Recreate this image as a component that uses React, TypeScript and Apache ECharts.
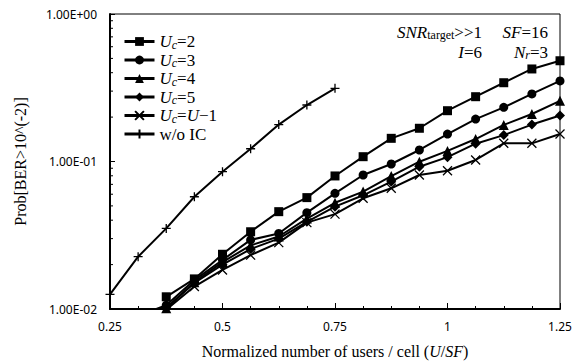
import React, { useEffect, useRef } from "react";
import * as echarts from "echarts";

// x = U/SF (U = 4..20, SF = 16)
const xValues = [0.25, 0.3125, 0.375, 0.4375, 0.5, 0.5625, 0.625, 0.6875, 0.75, 0.8125, 0.875, 0.9375, 1.0, 1.0625, 1.125, 1.1875, 1.25];

const uc2 = [null, null, 0.0121, 0.016, 0.0235, 0.0334, 0.0457, 0.0569, 0.0798, 0.1078, 0.1436, 0.168, 0.221, 0.275, 0.342, 0.424, 0.482];
const uc3 = [null, 0.009, 0.0106, 0.0157, 0.0215, 0.0294, 0.0325, 0.045, 0.0608, 0.081, 0.0962, 0.1197, 0.1535, 0.194, 0.233, 0.287, 0.352];
const uc4 = [null, 0.0088, 0.0101, 0.0152, 0.0208, 0.027, 0.031, 0.041, 0.0525, 0.0625, 0.0797, 0.0997, 0.118, 0.142, 0.177, 0.21, 0.258];
const uc5 = [null, 0.0088, 0.0102, 0.015, 0.02, 0.0255, 0.03, 0.039, 0.0494, 0.059, 0.073, 0.0922, 0.107, 0.132, 0.151, 0.178, 0.205];
const ucUm1 = [null, 0.0087, 0.0099, 0.0142, 0.0184, 0.0232, 0.0282, 0.0385, 0.044, 0.0563, 0.0658, 0.081, 0.0866, 0.1024, 0.1328, 0.1328, 0.1535];
const woIC = [0.01258, 0.02263, 0.0352, 0.0577, 0.0853, 0.122, 0.178, 0.2415, 0.3135, null, null, null, null, null, null, null, null];

const seriesNames = ["Uc=2", "Uc=3", "Uc=4", "Uc=5", "Uc=U-1", "w/o IC"];
const seriesValues = [uc2, uc3, uc4, uc5, ucUm1, woIC];

const yTickValues = [0.01, 0.1, 1];
const yTickLabels = ["1.00E-02", "1.00E-01", "1.00E+00"];
const yMinorTicks = [0.02, 0.03, 0.04, 0.05, 0.06, 0.07, 0.08, 0.09, 0.2, 0.3, 0.4, 0.5, 0.6, 0.7, 0.8, 0.9];

const SERIF = "Liberation Serif";
const SANS = "Noto Sans";

const symbols: Record<string, { symbol: string; size: number; stroke: boolean }> = {
  "Uc=2": { symbol: "rect", size: 9, stroke: false },
  "Uc=3": { symbol: "circle", size: 9, stroke: false },
  "Uc=4": { symbol: "triangle", size: 10, stroke: false },
  "Uc=5": { symbol: "diamond", size: 10, stroke: false },
  "Uc=U-1": { symbol: "path://M0,0L10,10M10,0L0,10", size: 9, stroke: true },
  "w/o IC": { symbol: "path://M5,0L5,10M0,5L10,5", size: 9, stroke: true },
};

const legendRich = {
  i: { fontFamily: SERIF, fontStyle: "italic", fontSize: 17, lineHeight: 18, color: "#000" },
  n: { fontFamily: SERIF, fontSize: 17, lineHeight: 18, color: "#000" },
  s: { fontFamily: SERIF, fontStyle: "italic", fontSize: 12, lineHeight: 10, verticalAlign: "bottom", color: "#000" },
};

const legendFormatter = (name: string) => {
  if (name === "w/o IC") return "{n|w/o IC}";
  if (name === "Uc=U-1") return "{i|U}{s|c}{n|=}{i|U}{n|\u22121}";
  return "{i|U}{s|c}{n|" + name.slice(2) + "}";
};

export default function App() {
  const ref = useRef<HTMLDivElement>(null);
  useEffect(() => {
    if (!ref.current) return;
    const chart = echarts.init(ref.current, undefined, { renderer: "svg" });

    const lineSeries = seriesNames.map((name, si) => {
      const s = symbols[name];
      return {
        name,
        type: "line",
        xAxisIndex: 0,
        yAxisIndex: 0,
        clip: true,
        symbol: s.symbol,
        symbolSize: s.size,
        showAllSymbol: true,
        lineStyle: { color: "#000", width: 2 },
        itemStyle: s.stroke
          ? { color: "#000", borderColor: "#000", borderWidth: 1.3 }
          : { color: "#000", borderWidth: 0 },
        data: xValues
          .map((x, i) => [x, seriesValues[si][i]])
          .filter((p) => p[1] !== null),
      };
    });

    const option: any = {
      animation: false,
      grid: {
        left: 110,
        right: 21,
        top: 14,
        bottom: 55,
        show: true,
        borderColor: "#000",
        borderWidth: 1,
      },
      legend: {
        data: seriesNames,
        orient: "vertical",
        left: 118,
        top: 28,
        itemWidth: 30,
        itemHeight: 11,
        itemGap: 1,
        lineStyle: { width: 3 },
        formatter: legendFormatter,
        textStyle: { rich: legendRich },
      },
      xAxis: [
        {
          type: "value",
          min: 0.25,
          max: 1.25,
          interval: 0.0625,
          axisLine: { show: true, lineStyle: { color: "#000", width: 2 } },
          axisTick: { show: true, inside: true, length: 3, lineStyle: { color: "#000", width: 1 } },
          axisLabel: { show: false },
          splitLine: { show: false },
        },
        {
          type: "value",
          min: 0.25,
          max: 1.25,
          interval: 0.25,
          position: "bottom",
          axisLine: { show: false },
          axisTick: { show: true, inside: true, length: 6, lineStyle: { color: "#000", width: 1 } },
          axisLabel: {
            show: true,
            margin: 11,
            fontFamily: SANS,
            fontSize: 12,
            color: "#000",
            formatter: (v: number) => String(+v.toFixed(4)),
          },
          splitLine: { show: false },
          name: "{n|Normalized number of users / cell (}{i|U}{n|/}{i|SF}{n|)}",
          nameLocation: "middle",
          nameGap: 34,
          nameTextStyle: {
            rich: {
              n: { fontFamily: SERIF, fontSize: 16, color: "#000" },
              i: { fontFamily: SERIF, fontSize: 16, fontStyle: "italic", color: "#000" },
            },
          },
        },
      ],
      yAxis: {
        type: "log",
        logBase: 10,
        min: 0.01,
        max: 1,
        axisLine: { show: true, lineStyle: { color: "#000", width: 2 } },
        axisTick: { show: true, inside: true, length: 5, lineStyle: { color: "#000", width: 1 } },
        axisLabel: {
          margin: 13,
          fontFamily: SANS,
          fontSize: 12,
          color: "#000",
          formatter: (v: number) => {
            const idx = yTickValues.findIndex((t) => Math.abs(Math.log10(t) - Math.log10(v)) < 1e-6);
            return idx >= 0 ? yTickLabels[idx] : "";
          },
        },
        splitLine: { show: false },
        name: "Prob[BER>10^(-2)]",
        nameLocation: "middle",
        nameGap: 82,
        nameTextStyle: { fontFamily: SERIF, fontSize: 16, color: "#000" },
      },
      graphic: [
        {
          type: "text",
          x: 482,
          y: 32,
          style: {
            text: "{i|SNR}{s|target}{n|>>1}",
            align: "right",
            verticalAlign: "middle",
            rich: {
              i: { fontFamily: SERIF, fontStyle: "italic", fontSize: 17, lineHeight: 18, fill: "#000" },
              n: { fontFamily: SERIF, fontSize: 17, lineHeight: 18, fill: "#000" },
              s: { fontFamily: SERIF, fontSize: 12, lineHeight: 10, verticalAlign: "bottom", fill: "#000" },
            },
          },
        },
        {
          type: "text",
          x: 548,
          y: 32,
          style: {
            text: "{i|SF}{n|=16}",
            align: "right",
            verticalAlign: "middle",
            rich: {
              i: { fontFamily: SERIF, fontStyle: "italic", fontSize: 17, lineHeight: 18, fill: "#000" },
              n: { fontFamily: SERIF, fontSize: 17, lineHeight: 18, fill: "#000" },
            },
          },
        },
        {
          type: "text",
          x: 482,
          y: 52,
          style: {
            text: "{i|I}{n|=6}",
            align: "right",
            verticalAlign: "middle",
            rich: {
              i: { fontFamily: SERIF, fontStyle: "italic", fontSize: 17, lineHeight: 18, fill: "#000" },
              n: { fontFamily: SERIF, fontSize: 17, lineHeight: 18, fill: "#000" },
            },
          },
        },
        {
          type: "text",
          x: 548,
          y: 52,
          style: {
            text: "{i|N}{s|r}{n|=3}",
            align: "right",
            verticalAlign: "middle",
            rich: {
              i: { fontFamily: SERIF, fontStyle: "italic", fontSize: 17, lineHeight: 18, fill: "#000" },
              n: { fontFamily: SERIF, fontSize: 17, lineHeight: 18, fill: "#000" },
              s: { fontFamily: SERIF, fontStyle: "italic", fontSize: 12, lineHeight: 10, verticalAlign: "bottom", fill: "#000" },
            },
          },
        },
      ],
      series: [
        ...lineSeries,
        {
          type: "custom",
          name: "yMinorTicks",
          silent: true,
          xAxisIndex: 0,
          yAxisIndex: 0,
          data: yMinorTicks.map((v) => [0.25, v]),
          renderItem: (params: any, api: any) => {
            const p = api.coord([api.value(0), api.value(1)]);
            return {
              type: "line",
              shape: { x1: p[0], y1: p[1], x2: p[0] + 3, y2: p[1] },
              style: { stroke: "#000", lineWidth: 1 },
            };
          },
        },
      ],
    };

    chart.setOption(option);
    return () => chart.dispose();
  }, []);

  return (
    <div
      ref={ref}
      style={{ position: "fixed", left: 0, top: 0, width: 581, height: 364, background: "#fff" }}
    />
  );
}
